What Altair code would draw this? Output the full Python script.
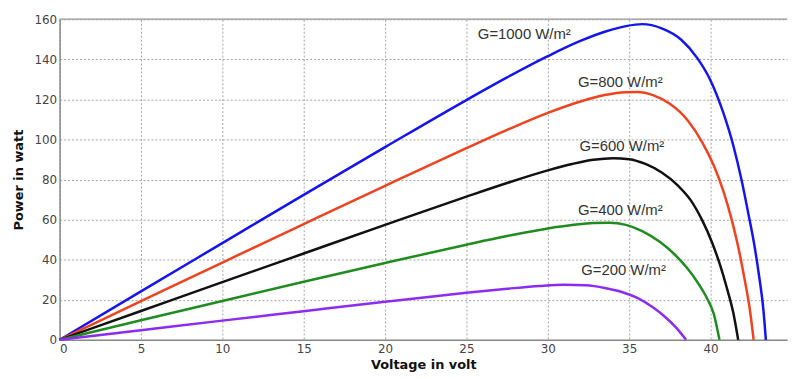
import altair as alt
import pandas as pd

# G = 1000 W/m2
v_1000 = [0, 5, 10, 15, 20, 25, 27.5, 30, 32, 33.5, 34.8, 35.8, 37.0, 38.2, 39.2, 40.0, 40.8, 41.4, 41.9, 42.3, 42.7, 43.0, 43.25, 43.4]
p_1000 = [0, 24.2, 48.3, 72.4, 96.2, 119.7, 131.0, 141.6, 149.2, 153.8, 156.6, 157.6, 155.5, 149.8, 140.5, 129.5, 113.0, 97.0, 80.0, 64.0, 47.0, 31.0, 15.0, 0]
# G = 800 W/m2
v_800 = [0, 5, 10, 15, 20, 25, 27.5, 30, 32, 33.5, 34.8, 35.5, 36.5, 37.5, 38.6, 39.5, 40.2, 40.8, 41.3, 41.7, 42.1, 42.4, 42.65]
p_800 = [0, 19.3, 38.6, 57.8, 76.9, 95.7, 104.8, 113.3, 119.0, 122.2, 123.6, 123.7, 122.0, 117.8, 109.5, 98.5, 87.0, 74.0, 60.0, 46.5, 30.0, 16.0, 0]
# G = 600 W/m2
v_600 = [0, 5, 10, 15, 20, 25, 27.5, 30, 31.5, 32.8, 34.0, 35.0, 36.0, 37.0, 38.0, 38.8, 39.5, 40.1, 40.6, 41.0, 41.4, 41.7]
p_600 = [0, 14.4, 28.8, 43.1, 57.4, 71.5, 78.3, 84.6, 87.8, 89.9, 90.7, 90.2, 87.8, 83.5, 77.0, 69.5, 59.5, 48.5, 37.0, 26.0, 13.5, 0]
# G = 400 W/m2
v_400 = [0, 5, 10, 15, 20, 25, 27.5, 30, 31.5, 32.8, 33.8, 34.8, 35.8, 36.9, 37.8, 38.6, 39.3, 39.8, 40.2, 40.55]
p_400 = [0, 9.75, 19.4, 29.0, 38.4, 47.5, 51.8, 55.6, 57.3, 58.3, 58.4, 57.4, 54.3, 48.8, 42.6, 35.5, 27.5, 20.5, 13.0, 0]
# G = 200 W/m2
v_200 = [0, 5, 10, 15, 20, 25, 27.5, 29.5, 31.0, 32.3, 33.5, 34.5, 35.5, 36.5, 37.3, 37.9, 38.5]
p_200 = [0, 4.8, 9.6, 14.3, 19.0, 23.5, 25.5, 26.9, 27.5, 27.2, 25.9, 24.0, 20.9, 16.0, 10.8, 6.0, 0]

series_names = ["G=1000", "G=800", "G=600", "G=400", "G=200"]
series_colors = ["#1414f0", "#f0421e", "#111111", "#1f8c1f", "#8c2cf0"]

label_text = ["G=1000 W/m²", "G=800 W/m²", "G=600 W/m²", "G=400 W/m²", "G=200 W/m²"]
label_v = [25.7, 31.85, 31.95, 31.85, 32.05]
label_p = [152.5, 128.9, 96.5, 64.9, 34.8]

x_ticks = [0, 5, 10, 15, 20, 25, 30, 35, 40]
y_ticks = [0, 20, 40, 60, 80, 100, 120, 140, 160]

rows = []
for name, vs, ps in zip(series_names,
                        [v_1000, v_800, v_600, v_400, v_200],
                        [p_1000, p_800, p_600, p_400, p_200]):
    for v, p in zip(vs, ps):
        rows.append({"series": name, "V": v, "P": p})
df = pd.DataFrame(rows)
labels = pd.DataFrame({"text": label_text, "V": label_v, "P": label_p})

x_scale = alt.Scale(domain=[0, 44.7], nice=False, zero=False)
y_scale = alt.Scale(domain=[0, 160], nice=False)

x_axis = alt.Axis(values=x_ticks, title="Voltage in volt", grid=True, ticks=False,
                  labelFont="DejaVu Sans", labelFontSize=12, labelColor="#444",
                  labelPadding=4, titleFont="DejaVu Sans", titleFontSize=13,
                  titleFontWeight="bold", titleColor="#111", titlePadding=4,
                  domainColor="#888", domainWidth=1.5,
                  gridColor="#999", gridDash=[2, 2], gridWidth=1, gridOpacity=0.9)
y_axis = alt.Axis(values=y_ticks, title="Power in watt", grid=True, ticks=False,
                  labelFont="DejaVu Sans", labelFontSize=12, labelColor="#444",
                  labelPadding=3, titleFont="DejaVu Sans", titleFontSize=13,
                  titleFontWeight="bold", titleColor="#111", titlePadding=8,
                  domainColor="#888", domainWidth=1.5,
                  gridColor="#999", gridDash=[2, 2], gridWidth=1, gridOpacity=0.9)

lines = alt.Chart(df).mark_line(strokeWidth=2.5, interpolate="monotone").encode(
    x=alt.X("V:Q", scale=x_scale, axis=x_axis),
    y=alt.Y("P:Q", scale=y_scale, axis=y_axis),
    color=alt.Color("series:N", scale=alt.Scale(domain=series_names, range=series_colors), legend=None),
    order=alt.Order("V:Q"),
)

top_border = alt.Chart(labels).mark_rule(color="#aaa", strokeWidth=1).encode(
    y=alt.datum(160)
)

texts = alt.Chart(labels).mark_text(align="left", baseline="middle", font="Liberation Sans",
                                     fontSize=15, color="#333").encode(
    x=alt.X("V:Q", scale=x_scale),
    y=alt.Y("P:Q", scale=y_scale),
    text="text:N",
)

chart = alt.layer(top_border, lines, texts).properties(
    width=733, height=323,
    padding={"left": 5, "top": 4, "right": 0, "bottom": 0},
).configure_view(stroke=None)

chart.save("out.html", embed_options={"renderer": "svg", "actions": False})
